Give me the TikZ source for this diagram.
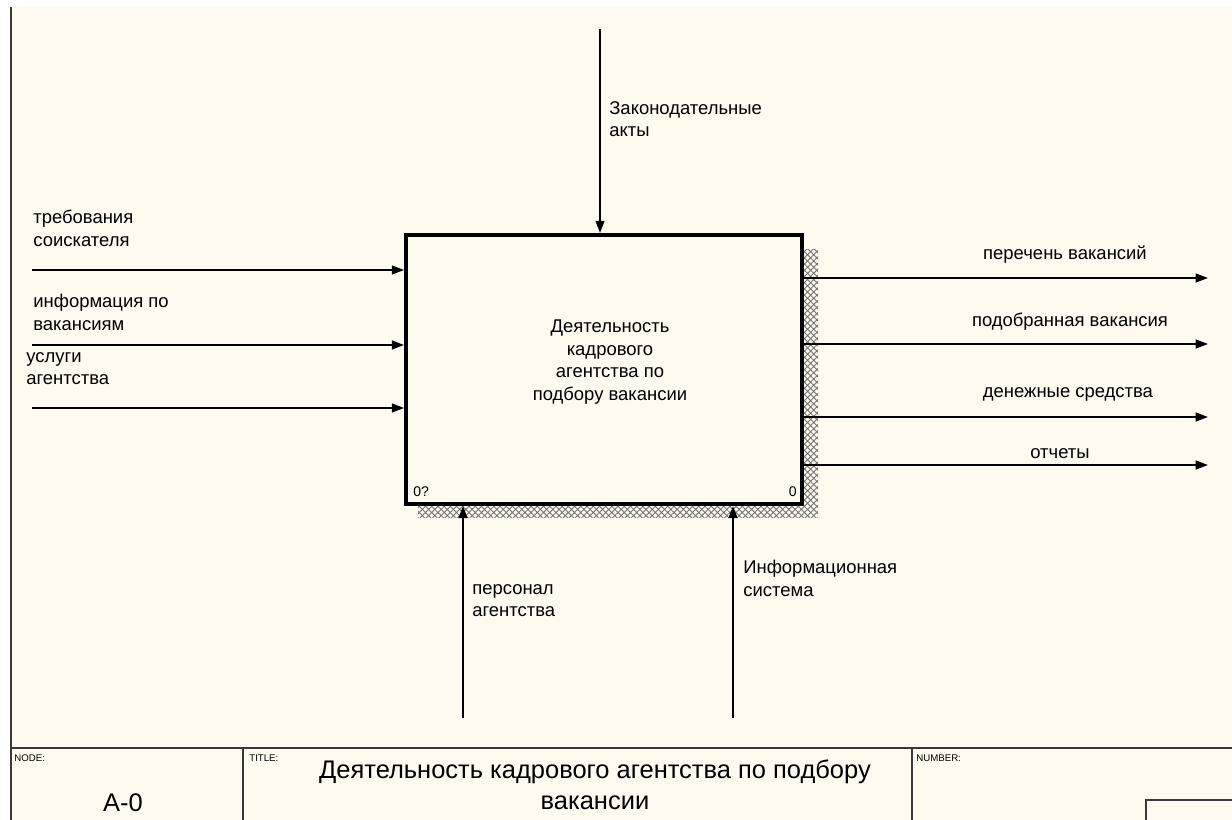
\documentclass[tikz,border=0pt]{standalone}
\usepackage{fontspec}
\setmainfont{Liberation Sans}
\usetikzlibrary{arrows.meta, patterns.meta, positioning}
\definecolor{IdefPaper}{HTML}{FFFAF0}
\definecolor{IdefFrame}{HTML}{3A3A3A}
\newcommand{\lblfont}{\fontsize{10.5}{12.8}\selectfont}
\newcommand{\tagfont}{\fontsize{5.5}{6.5}\selectfont}
\newcommand{\bigfont}{\fontsize{14.5}{18.1}\selectfont}
\tikzset{
  arr/.style={-{Triangle[length=7pt,width=5pt]}, line width=1.1pt},
  lbl/.style={font=\lblfont, inner sep=0pt, align=left, execute at begin node=\strut},
  tag/.style={font=\tagfont, inner sep=0pt, anchor=base west},
  frame/.style={IdefFrame, line width=1.5pt},
  actbox/.style={draw, line width=2.2pt, fill=IdefPaper, inner sep=0pt,
    minimum width=7.92cm, minimum height=5.38cm}
}

\begin{document}
\begin{tikzpicture}[x=0.02cm, y=-0.02cm]
  \useasboundingbox (0,0) rectangle (1232,820);
  \fill[white] (0,0) rectangle (1232,820);
  \fill[IdefPaper] (11,7) rectangle (1232,820);

  % shadow and activity box
  \fill[pattern={Hatch[angle=45,distance=2.5pt,line width=0.5pt]}, pattern color=black!55]
    (418,250) rectangle (818,518);
  \node[actbox] (act) at (604,369.5) {};
  \node[font=\lblfont, align=center, inner sep=0pt] (actTxt) at (610,362)
    {Деятельность\\кадрового\\агентства по\\подбору вакансии};
  \node[font=\fontsize{8}{9}\selectfont, anchor=base west, inner sep=0pt] (actId) at (413,497) {0?};
  \node[font=\fontsize{8}{9}\selectfont, anchor=base east, inner sep=0pt] (actNo) at (797,497) {0};

  % inputs
  \foreach \name/\y in {in1/270, in2/345, in3/408} {
    \coordinate (\name) at (32,\y);
    \draw[arr] (\name) -- (\name -| act.west);
  }
  \node[lbl, anchor=north west] (in1Lbl) at (33,210) {требования\\соискателя};
  \node[lbl, anchor=north west] (in2Lbl) at (33,294) {информация по\\вакансиям};
  \node[lbl, anchor=north west] (in3Lbl) at (26,352) {услуги\\агентства};

  % outputs
  \foreach \name/\y in {out1/278, out2/344, out3/417, out4/465} {
    \coordinate (\name) at (1208,\y);
    \draw[arr] (\name -| act.east) -- (\name);
  }
  \node[lbl, anchor=base] (out1Lbl) at (1065,260) {перечень вакансий};
  \node[lbl, anchor=base] (out2Lbl) at (1070,327) {подобранная вакансия};
  \node[lbl, anchor=base] (out3Lbl) at (1068,398) {денежные средства};
  \node[lbl, anchor=base] (out4Lbl) at (1060,459) {отчеты};

  % control
  \coordinate (ctl) at (600,29);
  \draw[arr] (ctl) -- (ctl |- act.north);
  \node[lbl, anchor=north west] (ctlLbl) at (609,101) {Законодательные\\акты};

  % mechanisms
  \foreach \name/\x in {mech1/463, mech2/733} {
    \coordinate (\name) at (\x,718);
    \draw[arr] (\name) -- (\name |- act.south);
  }
  \node[lbl, anchor=north west] (mech1Lbl) at (472,584) {персонал\\агентства};
  \node[lbl, anchor=north west] (mech2Lbl) at (743,560) {Информационная\\система};

  % frame and title block
  \draw[frame] (11,7) -- (11,820);
  \draw[frame] (11,748) -- (1232,748);
  \draw[frame] (243,748) -- (243,820);
  \draw[frame] (912,748) -- (912,820);
  \draw[frame] (1146,820) -- (1146,800) -- (1232,800);
  \node[tag] (nodeTag) at (14,762) {NODE:};
  \node[tag] (titleTag) at (249,762) {TITLE:};
  \node[tag] (numTag) at (916,762) {NUMBER:};
  \node[font=\bigfont, anchor=base, inner sep=0pt] (nodeNo) at (123,812) {A-0};
  \node[font=\bigfont, align=center, anchor=north, inner sep=0pt, execute at begin node=\strut]
    (titleTxt) at (595,759) {Деятельность кадрового агентства по подбору\\вакансии};
\end{tikzpicture}
\end{document}
